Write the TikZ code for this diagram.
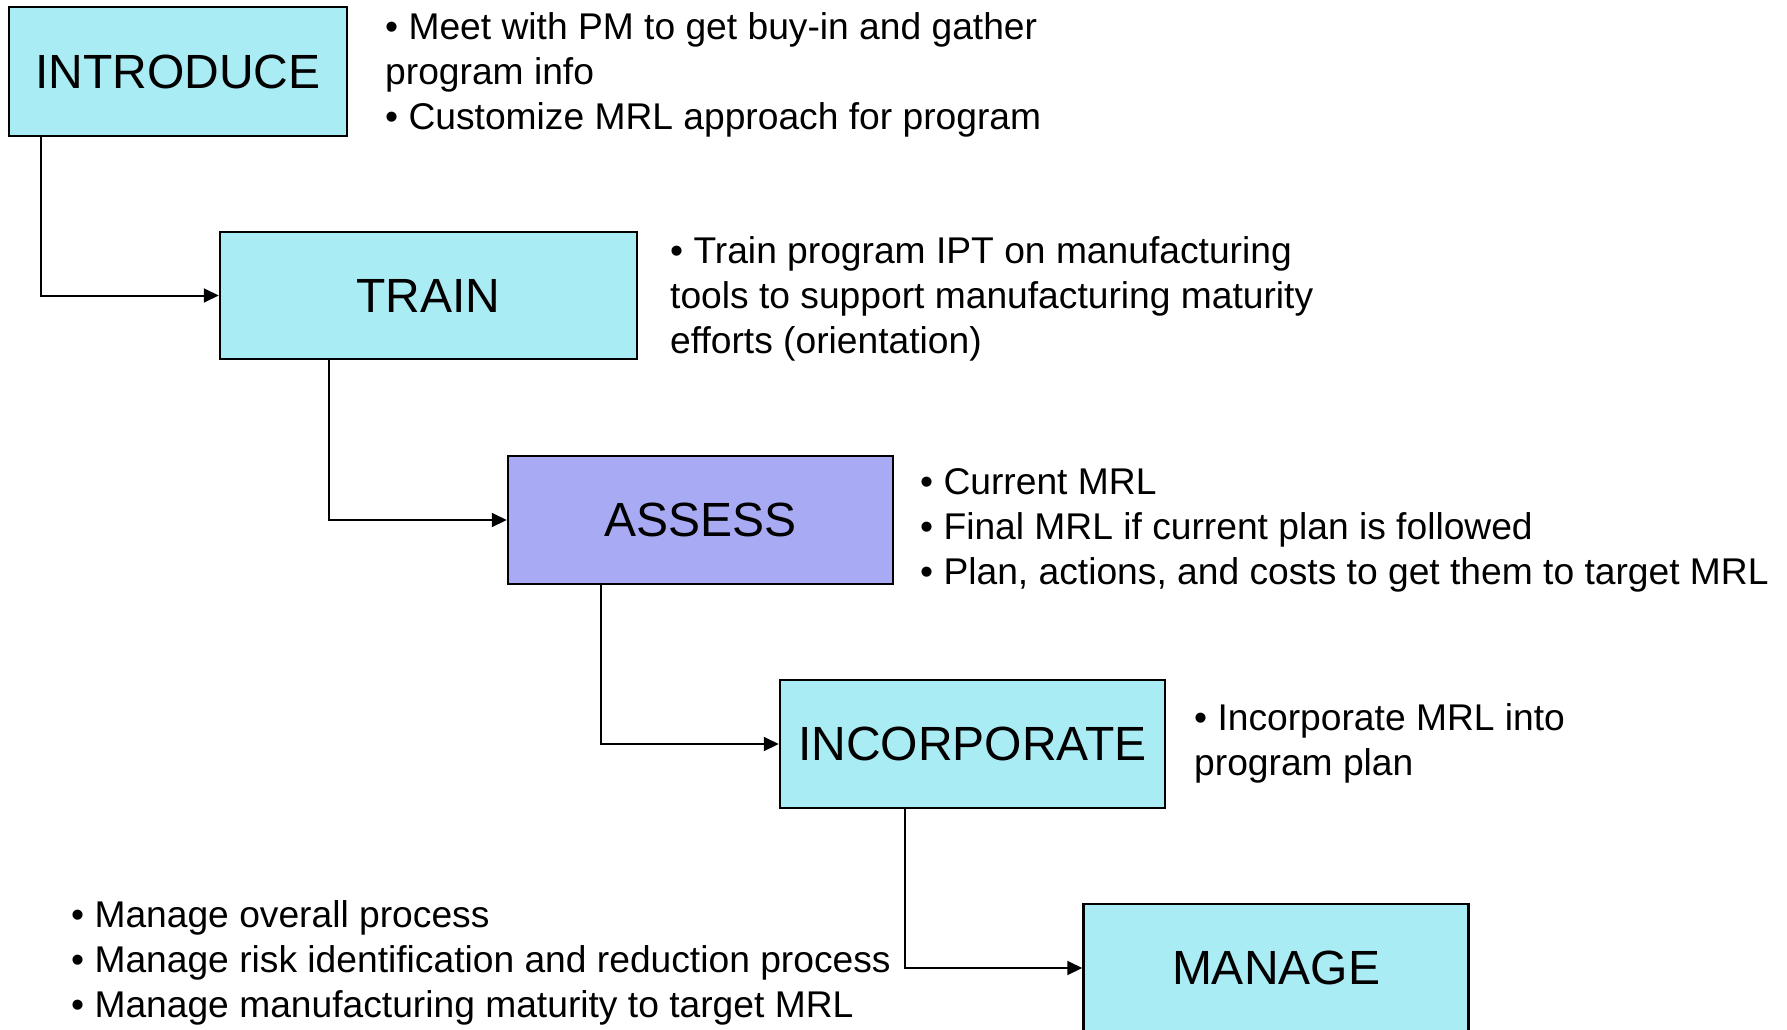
\documentclass[tikz,border=0pt]{standalone}
\usepackage{fontspec}
\setmainfont{Liberation Sans}
\usetikzlibrary{arrows.meta,calc}
\definecolor{boxcyan}{RGB}{170,236,244}
\definecolor{boxblue}{RGB}{168,170,244}
\begin{document}
\begin{tikzpicture}[x=1pt,y=-1pt,
  stagebox/.style={draw=black, line width=2.5pt, fill=boxcyan, inner sep=0pt,
    minimum width=385pt, minimum height=128pt, font=\fontsize{48}{56}\selectfont},
  note/.style={anchor=north west, inner sep=0pt, align=left, font=\fontsize{37.2}{45}\selectfont},
  conn/.style={line width=2pt, -{Triangle[length=15pt,width=14pt]}}]
\useasboundingbox (0,0) rectangle (1787,1029);
\clip (0,0) rectangle (1787,1029);
\node[stagebox, minimum width=338pt, minimum height=129pt] (intro) at (178,71.5) {INTRODUCE};
\node[stagebox, minimum width=417pt, minimum height=127pt] (train) at (428.5,295.5) {TRAIN};
\node[stagebox, fill=boxblue] (assess) at (700.5,520) {ASSESS};
\node[stagebox] (incorp) at (972.5,744) {INCORPORATE};
\node[stagebox] (manage) at (1276,968) {MANAGE};

\node[note] (tintro) at (385,7.5) {\strut• Meet with PM to get buy-in and gather\\\strut program info\\\strut• Customize MRL approach for program};
\node[note] (ttrain) at (670,231.5) {\strut• Train program IPT on manufacturing\\\strut tools to support manufacturing maturity\\\strut efforts (orientation)};
\node[note] (tassess) at (920,462.5) {\strut• Current MRL\\\strut• Final MRL if current plan is followed\\\strut• Plan, actions, and costs to get them to target MRL};
\node[note] (tincorp) at (1194,698.5) {\strut• Incorporate MRL into\\\strut program plan};
\node[note] (tmanage) at (71,895.5) {\strut• Manage overall process\\\strut• Manage risk identification and reduction process\\\strut• Manage manufacturing maturity to target MRL};

\draw[conn] ($(intro.south west)+(33,0)$) |- (train.west);
\draw[conn] ($(train.south west)+(110,0)$) |- (assess.west);
\draw[conn] ($(assess.south west)+(94,0)$) |- (incorp.west);
\draw[conn] ($(incorp.south west)+(126,0)$) |- (manage.west);
\end{tikzpicture}
\end{document}
